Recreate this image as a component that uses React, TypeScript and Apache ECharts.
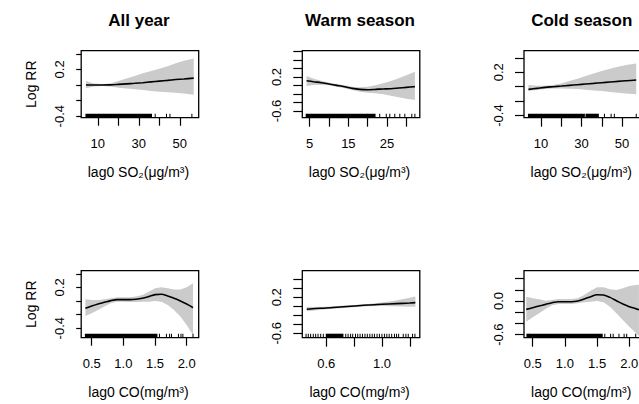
import React, { useEffect, useRef } from "react";
import * as echarts from "echarts";

// ---------- texts ----------
const panelTitles = ["All year", "Warm season", "Cold season"];
const rowXNames = ["lag0 SO₂(μg/m³)", "lag0 CO(mg/m³)"];
const yName = "Log RR";

// ---------- SO2, all year ----------
const so2AllX = [4.2, 8, 12, 16, 20, 24, 28, 32, 36, 40, 44, 48, 52, 56.8];
const so2AllFit = [0.0, 0.0, 0.0, 0.002, 0.008, 0.015, 0.022, 0.03, 0.04, 0.05, 0.06, 0.07, 0.078, 0.088];
const so2AllUpper = [0.05, 0.02, 0.013, 0.02, 0.05, 0.085, 0.115, 0.15, 0.18, 0.21, 0.24, 0.28, 0.31, 0.34];
const so2AllLower = [-0.04, -0.02, -0.013, -0.02, -0.035, -0.045, -0.055, -0.064, -0.077, -0.085, -0.094, -0.1, -0.11, -0.125];
const so2AllRugSpans = [[4.2, 36.2]];
const so2AllRugTicks = [38.0, 43.5, 45.2, 55.9];
const so2AllXRange = [1.89, 59.23];
const so2AllYRange = [-0.419, 0.44];
const so2AllXTicks = [10, 20, 30, 40, 50];
const so2AllXLabels = [10, 30, 50];
const so2AllYTicks = [-0.4, -0.2, 0, 0.2, 0.4];
const so2AllYLabels = [-0.4, 0.2];

// ---------- SO2, warm season ----------
const so2WarmX = [4.2, 6, 8, 10, 12, 14, 16, 18, 20, 22, 24, 26, 28, 30, 32.2];
const so2WarmFit = [0.114, 0.09, 0.067, 0.035, 0.004, -0.027, -0.067, -0.09, -0.098, -0.09, -0.082, -0.075, -0.059, -0.043, -0.027];
const so2WarmUpper = [0.224, 0.161, 0.114, 0.067, 0.035, 0.004, -0.027, -0.043, -0.027, 0.004, 0.051, 0.106, 0.169, 0.239, 0.325];
const so2WarmLower = [-0.012, 0.012, 0.02, 0.004, -0.027, -0.067, -0.106, -0.145, -0.169, -0.184, -0.208, -0.239, -0.278, -0.31, -0.341];
const so2WarmRugSpans = [[4.1, 21.9]];
const so2WarmRugTicks = [23.1, 24.8, 25.7, 27.0, 28.3, 29.6, 31.4, 32.2];
const so2WarmXRange = [3.09, 33.47];
const so2WarmYRange = [-0.758, 0.82];
const so2WarmXTicks = [5, 10, 15, 20, 25, 30];
const so2WarmXLabels = [5, 15, 25];
const so2WarmYTicks = [-0.6, -0.4, -0.2, 0, 0.2, 0.4, 0.6, 0.8];
const so2WarmYLabels = [-0.6, 0.2];

// ---------- SO2, cold season ----------
const so2ColdX = [3.8, 8, 12, 16, 20, 24, 28, 32, 36, 40, 44, 48, 52, 57];
const so2ColdFit = [-0.037, -0.023, -0.009, 0, 0.009, 0.019, 0.028, 0.037, 0.046, 0.056, 0.065, 0.074, 0.083, 0.093];
const so2ColdUpper = [0.023, 0.014, 0.014, 0.023, 0.046, 0.079, 0.111, 0.148, 0.185, 0.218, 0.25, 0.278, 0.301, 0.324];
const so2ColdLower = [-0.06, -0.046, -0.032, -0.023, -0.023, -0.028, -0.032, -0.042, -0.051, -0.06, -0.074, -0.083, -0.093, -0.106];
const so2ColdRugSpans = [[3.8, 31.4], [32.2, 38.3]];
const so2ColdRugTicks = [41.3, 44.6, 46.2, 57.0];
const so2ColdXRange = [1.6, 59.6];
const so2ColdYRange = [-0.43, 0.5];
const so2ColdXTicks = [10, 20, 30, 40, 50];
const so2ColdXLabels = [10, 30, 50];
const so2ColdYTicks = [-0.4, -0.2, 0, 0.2, 0.4];
const so2ColdYLabels = [-0.4, 0.2];

// ---------- CO, all year ----------
const coAllX = [0.4, 0.5, 0.6, 0.7, 0.8, 0.9, 1.0, 1.1, 1.2, 1.3, 1.4, 1.5, 1.6, 1.7, 1.8, 1.9, 2.0, 2.1];
const coAllFit = [-0.108, -0.074, -0.044, -0.02, 0.005, 0.02, 0.02, 0.02, 0.025, 0.039, 0.064, 0.093, 0.098, 0.074, 0.039, 0, -0.044, -0.098];
const coAllUpper = [0.025, 0.015, 0.015, 0.025, 0.039, 0.054, 0.054, 0.054, 0.064, 0.088, 0.137, 0.187, 0.2, 0.187, 0.17, 0.17, 0.2, 0.26];
const coAllLower = [-0.22, -0.18, -0.133, -0.083, -0.034, -0.01, -0.01, -0.015, -0.015, -0.01, -0.01, 0, -0.01, -0.059, -0.133, -0.23, -0.353, -0.5];
const coAllRugSpans = [[0.4, 1.53]];
const coAllRugTicks = [1.57, 1.68, 1.73, 1.76, 1.87, 1.91, 1.94, 2.1];
const coAllXRange = [0.334, 2.19];
const coAllYRange = [-0.54, 0.445];
const coAllXTicks = [0.5, 1.0, 1.5, 2.0];
const coAllXLabels = [0.5, 1.0, 1.5, 2.0];
const coAllYTicks = [-0.4, -0.2, 0, 0.2, 0.4];
const coAllYLabels = [-0.4, 0.2];

// ---------- CO, warm season ----------
const coWarmX = [0.46, 0.5, 0.6, 0.7, 0.8, 0.9, 1.0, 1.1, 1.2, 1.24];
const coWarmFit = [-0.067, -0.053, -0.038, -0.016, 0.007, 0.029, 0.044, 0.059, 0.073, 0.081];
const coWarmUpper = [-0.01, -0.015, -0.008, 0.012, 0.03, 0.05, 0.085, 0.13, 0.19, 0.215];
const coWarmLower = [-0.112, -0.097, -0.067, -0.045, -0.023, 0.0, 0.005, 0.0, -0.01, -0.012];
const coWarmRugSpans = [[0.6, 0.72]];
const coWarmRugTicks = [0.455, 0.471, 0.488, 0.507, 0.524, 0.541, 0.56, 0.579, 0.74, 0.757, 0.775, 0.79, 0.81, 0.826, 0.843, 0.86, 0.878, 0.895, 0.913, 0.93, 0.946, 0.965, 0.982, 1.0, 1.018, 1.035, 1.052, 1.07, 1.09, 1.105, 1.12, 1.153, 1.172, 1.189, 1.22, 1.237];
const coWarmXRange = [0.428, 1.272];
const coWarmYRange = [-0.698, 0.791];
const coWarmXTicks = [0.6, 0.8, 1.0, 1.2];
const coWarmXLabels = [0.6, 1.0];
const coWarmYTicks = [-0.6, -0.4, -0.2, 0, 0.2, 0.4, 0.6];
const coWarmYLabels = [-0.6, 0.2];

// ---------- CO, cold season ----------
const coColdX = [0.4, 0.5, 0.6, 0.7, 0.8, 0.9, 1.0, 1.1, 1.2, 1.3, 1.4, 1.5, 1.6, 1.7, 1.8, 1.9, 2.0, 2.1, 2.15];
const coColdFit = [-0.149, -0.119, -0.089, -0.06, -0.03, -0.012, -0.012, -0.012, 0, 0.036, 0.077, 0.113, 0.107, 0.065, 0.006, -0.054, -0.101, -0.137, -0.155];
const coColdUpper = [0.077, 0.048, 0.03, 0.006, 0.018, 0.036, 0.036, 0.036, 0.048, 0.107, 0.185, 0.244, 0.244, 0.208, 0.196, 0.226, 0.268, 0.286, 0.29];
const coColdLower = [-0.369, -0.292, -0.22, -0.143, -0.077, -0.054, -0.054, -0.054, -0.042, -0.024, -0.012, 0, -0.024, -0.101, -0.22, -0.339, -0.458, -0.565, -0.625];
const coColdRugSpans = [[0.42, 1.58]];
const coColdRugTicks = [0.41, 0.45, 1.62, 1.71, 1.75, 1.84, 1.92, 1.96, 2.1];
const coColdXRange = [0.365, 2.19];
const coColdYRange = [-0.655, 0.541];
const coColdXTicks = [0.5, 1.0, 1.5, 2.0];
const coColdXLabels = [0.5, 1.0, 1.5, 2.0];
const coColdYTicks = [-0.6, -0.4, -0.2, 0, 0.2, 0.4];
const coColdYLabels = [-0.6, 0.0];

// ---------- layout / style ----------
const BOX_LEFT = [81.2, 302.3, 524];
const BOX_TOP = [50.7, 270.7];
const BOX_W = 117.5;
const BOX_H = 67;
const Y_TICK_LEN = [5, 9, 9];
const Y_LABEL_MARGIN = [15, 19.5, 19.5];
const X_TICK_LEN = [8, 9, 9];
const BAND = "#cbcbcb";
const INK = "#000";
const FONT = "'Liberation Sans', Arial, Helvetica, sans-serif";
const RUG_H = 4;

type Panel = {
  row: number; col: number;
  x: number[]; fit: number[]; upper: number[]; lower: number[];
  rugSpans: number[][]; rugTicks: number[];
  xRange: number[]; yRange: number[];
  xTicks: number[]; xLabels: number[]; yTicks: number[]; yLabels: number[];
  xDec: number;
};

const panels: Panel[] = [
  { row: 0, col: 0, x: so2AllX, fit: so2AllFit, upper: so2AllUpper, lower: so2AllLower, rugSpans: so2AllRugSpans, rugTicks: so2AllRugTicks, xRange: so2AllXRange, yRange: so2AllYRange, xTicks: so2AllXTicks, xLabels: so2AllXLabels, yTicks: so2AllYTicks, yLabels: so2AllYLabels, xDec: 0 },
  { row: 0, col: 1, x: so2WarmX, fit: so2WarmFit, upper: so2WarmUpper, lower: so2WarmLower, rugSpans: so2WarmRugSpans, rugTicks: so2WarmRugTicks, xRange: so2WarmXRange, yRange: so2WarmYRange, xTicks: so2WarmXTicks, xLabels: so2WarmXLabels, yTicks: so2WarmYTicks, yLabels: so2WarmYLabels, xDec: 0 },
  { row: 0, col: 2, x: so2ColdX, fit: so2ColdFit, upper: so2ColdUpper, lower: so2ColdLower, rugSpans: so2ColdRugSpans, rugTicks: so2ColdRugTicks, xRange: so2ColdXRange, yRange: so2ColdYRange, xTicks: so2ColdXTicks, xLabels: so2ColdXLabels, yTicks: so2ColdYTicks, yLabels: so2ColdYLabels, xDec: 0 },
  { row: 1, col: 0, x: coAllX, fit: coAllFit, upper: coAllUpper, lower: coAllLower, rugSpans: coAllRugSpans, rugTicks: coAllRugTicks, xRange: coAllXRange, yRange: coAllYRange, xTicks: coAllXTicks, xLabels: coAllXLabels, yTicks: coAllYTicks, yLabels: coAllYLabels, xDec: 1 },
  { row: 1, col: 1, x: coWarmX, fit: coWarmFit, upper: coWarmUpper, lower: coWarmLower, rugSpans: coWarmRugSpans, rugTicks: coWarmRugTicks, xRange: coWarmXRange, yRange: coWarmYRange, xTicks: coWarmXTicks, xLabels: coWarmXLabels, yTicks: coWarmYTicks, yLabels: coWarmYLabels, xDec: 1 },
  { row: 1, col: 2, x: coColdX, fit: coColdFit, upper: coColdUpper, lower: coColdLower, rugSpans: coColdRugSpans, rugTicks: coColdRugTicks, xRange: coColdXRange, yRange: coColdYRange, xTicks: coColdXTicks, xLabels: coColdXLabels, yTicks: coColdYTicks, yLabels: coColdYLabels, xDec: 1 },
];

function buildOption() {
  const grid: any[] = [];
  const xAxis: any[] = [];
  const yAxis: any[] = [];
  const series: any[] = [];
  const graphic: any[] = [];

  panels.forEach((p, i) => {
    grid.push({
      left: BOX_LEFT[p.col], top: BOX_TOP[p.row], width: BOX_W, height: BOX_H,
      show: false, containLabel: false, outerBoundsMode: "none",
    });
    xAxis.push({
      type: "value", gridIndex: i, min: p.xRange[0], max: p.xRange[1], position: "bottom",
      axisLine: { show: false, onZero: false }, splitLine: { show: false },
      axisTick: { show: true, length: X_TICK_LEN[p.col], lineStyle: { color: INK, width: 1.2 }, customValues: p.xTicks },
      axisLabel: {
        customValues: p.xLabels, margin: 19, fontSize: 13, color: INK, fontFamily: FONT,
        formatter: (v: number) => v.toFixed(p.xDec), hideOverlap: false,
      },
    });
    yAxis.push({
      type: "value", gridIndex: i, min: p.yRange[0], max: p.yRange[1], position: "left",
      axisLine: { show: false, onZero: false }, splitLine: { show: false },
      axisTick: { show: true, length: Y_TICK_LEN[p.col], lineStyle: { color: INK, width: 1.2 }, customValues: p.yTicks },
      axisLabel: {
        customValues: p.yLabels, rotate: 90, margin: Y_LABEL_MARGIN[p.col], fontSize: 13, color: INK, fontFamily: FONT,
        formatter: (v: number) => v.toFixed(1), hideOverlap: false,
      },
    });

    // confidence band
    series.push({
      type: "custom", xAxisIndex: i, yAxisIndex: i, clip: true, silent: true, z: 1,
      data: p.x.map((x, k) => [x, p.lower[k], p.upper[k]]),
      encode: { x: 0, y: [1, 2] },
      renderItem: (params: any, api: any) => {
        if (params.dataIndex !== 0) return null;
        const pts: number[][] = [];
        for (let k = 0; k < p.x.length; k++) pts.push(api.coord([p.x[k], p.upper[k]]));
        for (let k = p.x.length - 1; k >= 0; k--) pts.push(api.coord([p.x[k], p.lower[k]]));
        return { type: "polygon", shape: { points: pts }, style: { fill: BAND, stroke: null } };
      },
    });

    // fitted line
    series.push({
      type: "line", xAxisIndex: i, yAxisIndex: i, z: 3, clip: true,
      data: p.x.map((x, k) => [x, p.fit[k]]),
      symbol: "none", showSymbol: false, smooth: 0.3, silent: true,
      lineStyle: { color: INK, width: 1.6 },
    });

    // rug
    const rugData = [
      ...p.rugSpans.map((s) => [s[0], s[1], p.yRange[0]]),
      ...p.rugTicks.map((t) => [t, t, p.yRange[0]]),
    ];
    series.push({
      type: "custom", xAxisIndex: i, yAxisIndex: i, clip: false, silent: true, z: 4,
      data: rugData,
      encode: { x: [0, 1], y: 2 },
      renderItem: (params: any, api: any) => {
        const a = api.coord([api.value(0), api.value(2)]);
        const b = api.coord([api.value(1), api.value(2)]);
        return {
          type: "rect",
          shape: { x: a[0] - 0.5, y: a[1] - RUG_H, width: Math.max(1, b[0] - a[0] + 1), height: RUG_H },
          style: { fill: INK },
        };
      },
    });

    // plot box
    graphic.push({
      type: "rect", silent: true, z: 10,
      shape: { x: BOX_LEFT[p.col], y: BOX_TOP[p.row], width: BOX_W, height: BOX_H },
      style: { fill: "none", stroke: INK, lineWidth: 1.3 },
    });
  });

  // titles
  panelTitles.forEach((t, c) => {
    graphic.push({
      type: "text", x: BOX_LEFT[c] + BOX_W / 2 - 1, y: 20, silent: true,
      style: { text: t, fontSize: 17, fontWeight: "bold", fontFamily: FONT, fill: INK, align: "center", verticalAlign: "middle", textAlign: "center", textVerticalAlign: "middle" },
    });
  });
  // x axis names and y axis name
  [0, 1].forEach((r) => {
    [0, 1, 2].forEach((c) => {
      graphic.push({
        type: "text", x: BOX_LEFT[c] + BOX_W / 2 - 1.5, y: BOX_TOP[r] + BOX_H + 54.5, silent: true,
        style: { text: rowXNames[r], fontSize: 14, fontFamily: FONT, fill: INK, align: "center", verticalAlign: "middle", textAlign: "center", textVerticalAlign: "middle" },
      });
    });
    graphic.push({
      type: "text", x: 31, y: BOX_TOP[r] + BOX_H / 2, rotation: Math.PI / 2, silent: true,
      style: { text: yName, fontSize: 14, fontFamily: FONT, fill: INK, align: "center", verticalAlign: "middle", textAlign: "center", textVerticalAlign: "middle" },
    });
  });

  return {
    animation: false,
    backgroundColor: "#fff",
    textStyle: { fontFamily: FONT },
    grid, xAxis, yAxis, series, graphic,
  };
}

export default function App() {
  const ref = useRef<HTMLDivElement>(null);
  useEffect(() => {
    const chart = echarts.init(ref.current!, null, { renderer: "svg" });
    chart.setOption(buildOption() as any);
    return () => chart.dispose();
  }, []);
  return (
    <div
      ref={ref}
      style={{ position: "absolute", left: 0, top: 0, width: 639, height: 404, background: "#fff" }}
    />
  );
}
